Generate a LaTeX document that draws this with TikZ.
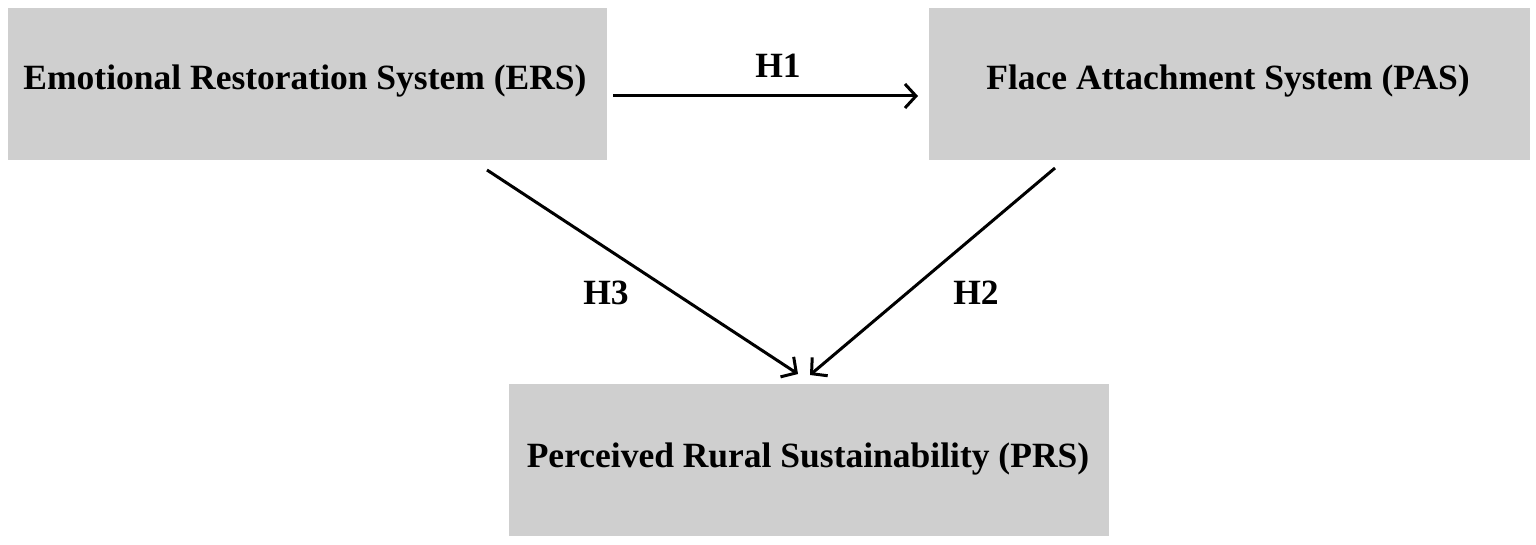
\documentclass[tikz,border=0pt]{standalone}
\usepackage{fontspec}
\setmainfont{Liberation Serif}
\usetikzlibrary{arrows.meta}
\begin{document}
\begin{tikzpicture}[x=1pt,y=-1pt,
  boxnode/.style={fill=boxgray,draw=none,minimum width=#1,minimum height=152pt,inner sep=0pt,anchor=north west},
  lbl/.style={font=\fontsize{35.5}{40}\selectfont\bfseries,inner sep=0pt,anchor=base},
  conn/.style={line width=3pt,-{Straight Barb[length=11pt,width=24pt,line width=3pt]}}]
\definecolor{boxgray}{HTML}{CFCFCF}
\useasboundingbox (0,0) rectangle (1536,545);
\node[boxnode=599pt] (ers) at (8,8) {};
\node[boxnode=601pt] (pas) at (929,8) {};
\node[boxnode=600pt] (prs) at (509,384) {};
\node[lbl] (erst) at (305,90) {Emotional Restoration System (ERS)};
\node[lbl] (past) at (1228,90) {Flace Attachment System (PAS)};
\node[lbl] (prst) at (808,467) {Perceived Rural Sustainability (PRS)};
\coordinate (a1) at (613,96);
\coordinate (b1) at (918,96);
\coordinate (a3) at (487,170);
\coordinate (b3) at (798,374);
\coordinate (a2) at (1055,168);
\coordinate (b2) at (810,375);
\draw[conn] (a1) -- (b1);
\draw[conn] (a3) -- (b3);
\draw[conn] (a2) -- (b2);
\node[lbl] (h1) at (778,78) {H1};
\node[lbl] (h3) at (606,304) {H3};
\node[lbl] (h2) at (976,305) {H2};
\end{tikzpicture}
\end{document}
